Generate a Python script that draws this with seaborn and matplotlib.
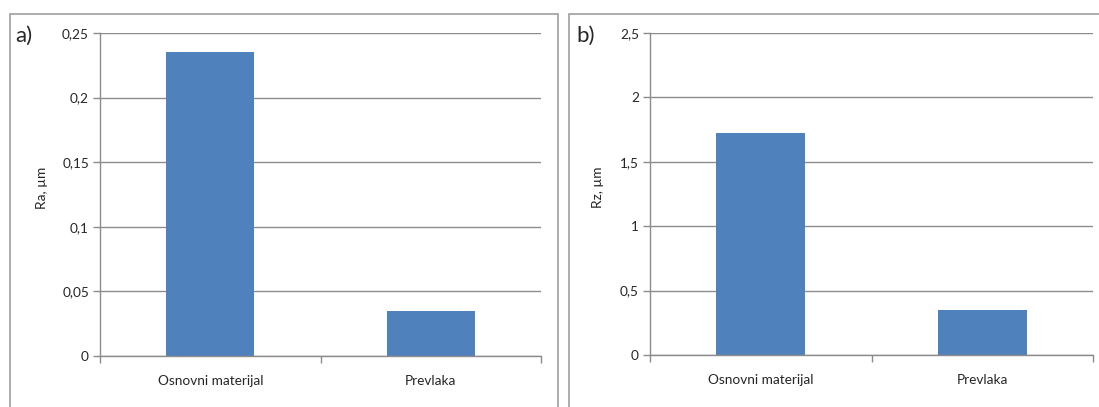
import numpy as np
import pandas as pd
import matplotlib
matplotlib.use("Agg")
import matplotlib.pyplot as plt
from matplotlib.patches import Rectangle
import seaborn as sns

# ---------------------------------------------------------------------------
# Data
categories = ["Osnovni materijal", "Prevlaka"]
ra_values = [0.235, 0.035]
rz_values = [1.72, 0.35]
ra_ticks = [0, 0.05, 0.1, 0.15, 0.2, 0.25]
ra_labels = ["0", "0,05", "0,1", "0,15", "0,2", "0,25"]
rz_ticks = [0, 0.5, 1, 1.5, 2, 2.5]
rz_labels = ["0", "0,5", "1", "1,5", "2", "2,5"]
# ---------------------------------------------------------------------------

sns.set_style("white")
plt.rcParams["font.family"] = ["Lato", "DejaVu Sans"]

W, H = 1099, 407
fig = plt.figure(figsize=(W / 100, H / 100), dpi=100)

bar_color = "#4F81BD"
grid_color = "#8c8c8c"
fs = 9.8

# panel frames (Excel chart areas)
fig.add_artist(Rectangle((10 / W, -0.05), 548 / W, 1 - 14 / H + 0.05,
                         transform=fig.transFigure, fill=False,
                         edgecolor="#a6a6a6", linewidth=1.3))
fig.add_artist(Rectangle((569 / W, -0.05), 560 / W, 1 - 14 / H + 0.05,
                         transform=fig.transFigure, fill=False,
                         edgecolor="#a6a6a6", linewidth=1.3))


def draw_panel(rect, values, ticks, labels, ylabel, tag, tag_x, label_x):
    ax = fig.add_axes(rect)
    df = pd.DataFrame({"cat": categories, "val": values})
    sns.barplot(data=df, x="cat", y="val", color=bar_color, width=0.4,
                saturation=1, linewidth=0, ax=ax)
    ax.set_ylim(0, ticks[-1])
    ax.set_xlim(-0.5, 1.5)
    ax.set_yticks(ticks)
    ax.set_yticklabels(labels, fontsize=fs)
    ax.yaxis.grid(True, color=grid_color, linewidth=1)
    ax.set_axisbelow(True)
    for s in ["top", "right"]:
        ax.spines[s].set_visible(False)
    for s in ["left", "bottom"]:
        ax.spines[s].set_color(grid_color)
        ax.spines[s].set_linewidth(1)
    ax.tick_params(axis="y", length=5, color=grid_color, width=1, pad=3,
                   left=True)
    ax.set_xticks([0, 1])
    ax.set_xticklabels(categories, fontsize=fs)
    ax.set_xticks([-0.5, 0.5, 1.5], minor=True)
    ax.tick_params(axis="x", which="major", length=0, pad=14)
    ax.tick_params(axis="x", which="minor", length=5, color=grid_color,
                   width=1, bottom=True)
    ax.set_xlabel("")
    ax.set_ylabel(ylabel, fontsize=fs)
    ax.yaxis.set_label_coords(label_x, 0.52)
    fig.text(tag_x / W, 1 - 36 / H, tag, fontsize=16, va="center")
    return ax


draw_panel([100 / W, 1 - 356 / H, 441 / W, 323 / H], ra_values, ra_ticks,
           ra_labels, "Ra, µm", "a)", 15, -0.118)
draw_panel([650 / W, 1 - 355 / H, 443 / W, 322 / H], rz_values, rz_ticks,
           rz_labels, "Rz, µm", "b)", 576, -0.104)

fig.savefig("out.png", dpi=100)
